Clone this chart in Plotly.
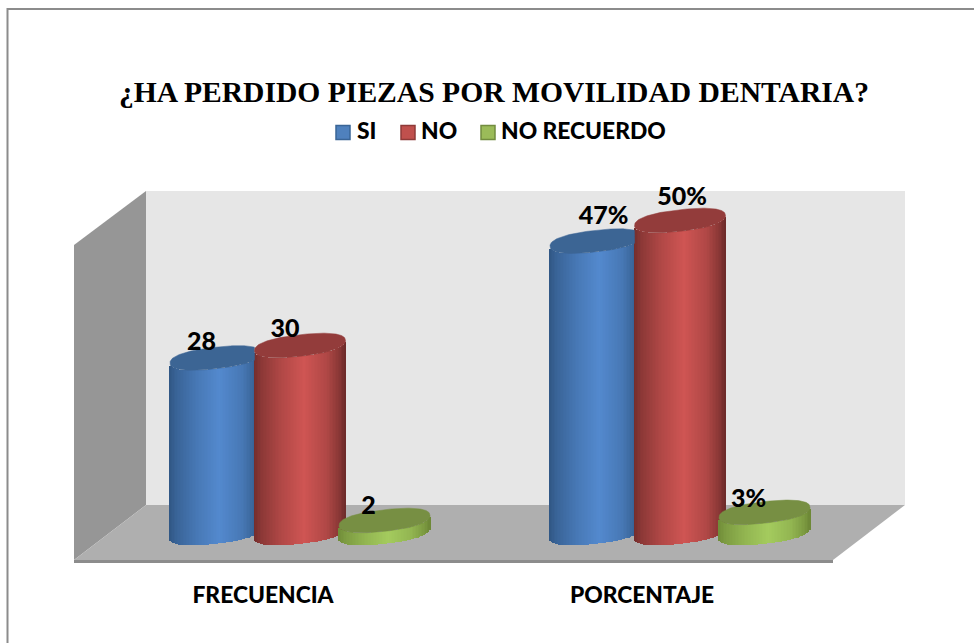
import numpy as np
import plotly.graph_objects as go

categories = ["FRECUENCIA", "PORCENTAJE"]
series_names = ["SI", "NO", "NO RECUERDO"]
si_values = [28, 46.7]
no_values = [30, 50]
no_recuerdo_values = [2, 3.3]
label_text = [["28", "47%"], ["30", "50%"], ["2", "3%"]]

bright = ["#5389CE", "#CF5553", "#A4CB5E"]
dark = ["#2E5480", "#6E2B2A", "#6D8836"]
cap = ["#3C6594", "#933C3B", "#778F43"]
legend_fill = ["#4F81BD", "#C0504D", "#9BBB59"]
legend_edge = ["#3A6596", "#8E3A38", "#728C3F"]

PX = 6.25            # pixels per value unit
FLOOR_PX = 533       # pixel row of value 0
W, H = 974, 643


def v(px):
    return (FLOOR_PX - np.asarray(px, dtype=float)) / PX


def mix(c1, c2, w):
    a = [int(c1[i:i + 2], 16) for i in (1, 3, 5)]
    b = [int(c2[i:i + 2], 16) for i in (1, 3, 5)]
    return "rgb(%d,%d,%d)" % tuple(round(p + (q - p) * w) for p, q in zip(a, b))


RADIUS = 45.5
SEMI_MINOR = 10.8
TILT = 5.0
ROUND = 0.85         # below 1 squares the ellipse off a little
group_x = [215.5, 595.5]
step = 84.5
label_dx = [[-14, 8], [-15, 2], [-16, -16]]
label_dy = [[14, 23], [15, 22], [13, 12]]
all_values = [si_values, no_values, no_recuerdo_values]


def outline(t):
    return (np.sign(np.cos(t)) * np.abs(np.cos(t)) ** ROUND,
            np.sign(np.sin(t)) * np.abs(np.sin(t)) ** ROUND)


fig = go.Figure()

shade_u = [0, .08, .3, .55, .8, .95, 1]
shade_w = [0.05, .3, .68, 1, .68, .25, 0]
strip = 1.5

for s, vals in enumerate(all_values):
    for g, val in enumerate(vals):
        cx = group_x[g] + s * step
        xs = np.arange(cx - RADIUS + strip / 2, cx + RADIUS, strip)
        c = (xs - cx) / RADIUS
        sine = (1 - np.abs(c) ** (2 / ROUND)) ** (ROUND / 2)
        bases = (TILT * c - SEMI_MINOR * sine) / PX
        u = (c + 1) / 2
        w = np.interp(u, shade_u, shade_w)
        fig.add_trace(go.Bar(
            x=xs, y=[val] * len(xs), base=bases, width=strip + 0.4,
            marker=dict(color=[mix(dark[s], bright[s], t) for t in w], line_width=0),
            showlegend=False, hoverinfo="skip",
        ))

for s, vals in enumerate(all_values):
    for g, val in enumerate(vals):
        cx = group_x[g] + s * step
        cu, su = outline(np.linspace(0, 2 * np.pi, 161))
        ex = cx + RADIUS * cu
        ey = val + (TILT * cu + SEMI_MINOR * su) / PX
        if s < 2 and all_values[s + 1][g] > val:
            ex = np.minimum(ex, cx + step - RADIUS)
        fig.add_trace(go.Scatter(
            x=ex, y=ey, mode="lines", fill="toself", fillcolor=cap[s],
            line=dict(color=cap[s], width=0.5), showlegend=False, hoverinfo="skip",
        ))

for s, vals in enumerate(all_values):
    fig.add_trace(go.Scatter(
        x=[group_x[g] + s * step + label_dx[s][g] for g in range(2)],
        y=[vals[g] + label_dy[s][g] / PX for g in range(2)],
        mode="text", text=label_text[s],
        textfont=dict(family="Lato", size=25, color="black", weight=900),
        textposition="middle center", showlegend=False, hoverinfo="skip",
    ))

legend_x = [343, 408, 488]
legend_text_x = [357, 421, 501]
for s, name in enumerate(series_names):
    fig.add_trace(go.Scatter(
        x=[legend_x[s]], y=[float(v(132.5))], mode="markers",
        marker=dict(symbol="square", size=14, color=legend_fill[s],
                    line=dict(color=legend_edge[s], width=1.5)),
        showlegend=False, hoverinfo="skip",
    ))
    fig.add_trace(go.Scatter(
        x=[legend_text_x[s]], y=[float(v(133))], mode="text", text=[name],
        textposition="middle right",
        textfont=dict(family="Lato", size=22.8, color="black", weight=900),
        showlegend=False, hoverinfo="skip",
    ))


def path(pts):
    return "M " + " L ".join(f"{x},{float(v(y)):.3f}" for x, y in pts) + " Z"


frame = [
    ([(146, 191), (905, 191), (905, 505), (146, 505)], "#E6E6E6"),
    ([(74, 245), (146, 191), (146, 505), (74, 560)], "#969696"),
    ([(146, 505), (905, 505), (833, 560), (74, 560)], "#AFAFAF"),
    ([(74, 560), (833, 560), (833, 563), (74, 563)], "#8C8C8C"),
]
shapes = [dict(type="path", path=path(p), fillcolor=c, line_width=0, layer="below",
               xref="x", yref="y") for p, c in frame]
shapes.append(dict(type="rect", xref="paper", yref="paper",
                   x0=7.5 / W, x1=1.1, y0=-0.1, y1=1 - 9 / H,
                   line=dict(color="#8C8C8C", width=2), fillcolor="rgba(0,0,0,0)", layer="below"))

fig.update_layout(
    width=W, height=H, autosize=False,
    margin=dict(l=0, r=0, t=0, b=0),
    paper_bgcolor="white", plot_bgcolor="white",
    barmode="overlay", bargap=0,
    shapes=shapes,
    title=dict(text="¿HA PERDIDO PIEZAS POR MOVILIDAD DENTARIA?",
               x=494 / W, xanchor="center", y=1 - 92 / H, yanchor="middle",
               font=dict(family="Liberation Serif", size=29.6, color="black", weight=700)),
    xaxis=dict(range=[0, W], showgrid=False, zeroline=False, showline=False,
               tickmode="array", tickvals=[263, 642], ticktext=categories,
               tickfont=dict(family="Lato", size=22.8, color="black", weight=900),
               ticks="outside", ticklen=12, tickwidth=0, tickcolor="rgba(0,0,0,0)",
               anchor="free", position=1 - 563 / H),
    yaxis=dict(range=[float(v(H)), float(v(0))], showgrid=False, zeroline=False,
               showline=False, showticklabels=False, ticks=""),
    showlegend=False,
)
fig.write_html("out.html", config={"displayModeBar": False},
               post_script="document.body.style.margin='0';document.documentElement.style.overflow='hidden';")
